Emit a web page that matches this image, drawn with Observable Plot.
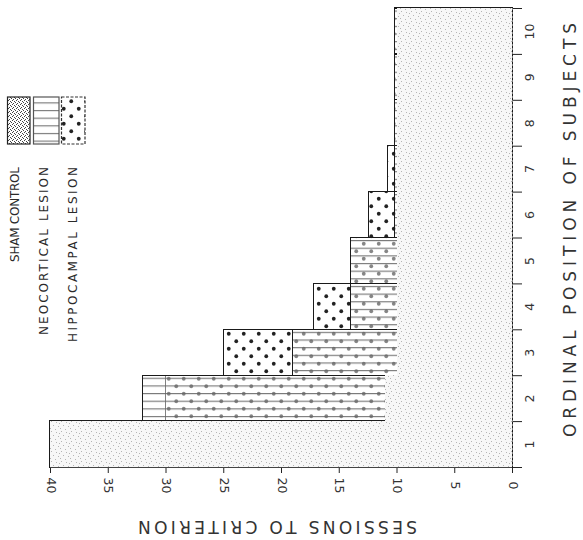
<!DOCTYPE html>
<html><head><meta charset="utf-8">
<script src="https://cdn.jsdelivr.net/npm/d3@7"></script>
<script src="https://cdn.jsdelivr.net/npm/@observablehq/plot@0.6"></script>
<style>
html,body{margin:0;padding:0;background:#fff;}
#chart{width:583px;height:540px;position:relative;overflow:hidden;}
</style>
</head><body><div id="chart"></div>
<script>
// ---- data ----
const ordinalPositions = [1, 2, 3, 4, 5, 6, 7, 8, 9, 10];
const shamControl       = [40, 11, 10, 10, 10, 10, 10, 10, 10, 10];
const neocorticalLesion = [40, 32, 19, 14, 14, 10.2, 10.2, 10.2, 10.2, 10.2];
const hippocampalLesion = [40, 30, 25, 17.2, 14, 12.4, 10.8, 10.2, 10.2, 10.2];
const sessionTicks = [0, 5, 10, 15, 20, 25, 30, 35, 40];
const groupLabels = ["SHAM CONTROL", "NEOCORTICAL LESION", "HIPPOCAMPAL LESION"];
const xTitle = "SESSIONS TO CRITERION";
const yTitle = "ORDINAL POSITION OF SUBJECTS";

// ---- tables built from the arrays ----
const rows = (values) => ordinalPositions.map((p, i) => ({position: p, sessions: values[i]}));
const sham = rows(shamControl), neo = rows(neocorticalLesion), hippo = rows(hippocampalLesion);
const bandEdges = [...ordinalPositions.map(p => p - 0.5), ordinalPositions[ordinalPositions.length - 1] + 0.5];

const font = "DejaVu Sans, sans-serif";
const rectOpts = {x1: 0, x2: "sessions", y1: d => d.position - 0.5, y2: d => d.position + 0.5, shapeRendering: "crispEdges"};

const chart = Plot.plot({
  width: 583, height: 540,
  marginLeft: 50, marginRight: 71, marginTop: 8, marginBottom: 73,
  style: {fontFamily: font, background: "#fff", color: "#222"},
  x: {domain: [0, 40], reverse: true, ticks: sessionTicks, tickSize: 6, tickFormat: () => "", label: null},
  y: {domain: [0.5, 10.5], axis: "right", ticks: bandEdges, tickSize: 9, tickFormat: () => "", label: null},
  marks: [
    Plot.rect(hippo, {...rectOpts, fill: "url(#hippoDots)", stroke: "#1a1a1a", strokeWidth: 1.3}),
    Plot.rect(neo, {...rectOpts, fill: "url(#neoLines)", stroke: "#1a1a1a", strokeWidth: 1.3}),
    Plot.rect(sham, {...rectOpts, fill: "url(#shamStipple)"}),
    Plot.ruleX([0], {stroke: "#777", strokeDasharray: "2,2"}),
    Plot.ruleY([bandEdges[0]], {stroke: "#444", strokeWidth: 1}),
    Plot.text(sessionTicks, {x: d => d, text: d => String(d), frameAnchor: "bottom", dy: 18, rotate: 90,
      textAnchor: "middle", lineAnchor: "middle", fontSize: 12.5, fill: "#333"}),
    Plot.text(ordinalPositions, {y: d => d, text: d => String(d), frameAnchor: "right", dx: 17, rotate: -90,
      textAnchor: "middle", lineAnchor: "middle", fontSize: 12.5, fill: "#333"})
  ]
});
document.getElementById("chart").appendChild(chart);

// ---- patterns ----
const svg = d3.select(chart);
const defs = svg.insert("defs", ":first-child");
function stipple(id, size, bg, pts, color) {
  const p = defs.append("pattern").attr("id", id).attr("patternUnits", "userSpaceOnUse")
    .attr("width", size).attr("height", size);
  p.append("rect").attr("width", size).attr("height", size).attr("fill", bg);
  pts.forEach(([x, y]) => p.append("rect").attr("x", x).attr("y", y).attr("width", 1).attr("height", 1).attr("fill", color));
}
stipple("shamStipple", 10, "#f7f7f7", [[1,1],[6,2],[3,5],[8,6],[0,8],[5,9],[9,3]], "#b5b5b5");
stipple("shamLegend", 4, "#fff", [[0,0],[2,1],[1,3],[3,2]], "#444");
{
  const p = defs.append("pattern").attr("id", "neoLines").attr("patternUnits", "userSpaceOnUse")
    .attr("width", 10).attr("height", 7.65);
  p.append("rect").attr("width", 10).attr("height", 7.65).attr("fill", "rgba(255,255,255,0.45)");
  p.append("rect").attr("x", 0).attr("y", 3).attr("width", 10).attr("height", 1).attr("fill", "#666");
}
{
  const p = defs.append("pattern").attr("id", "hippoDots").attr("patternUnits", "userSpaceOnUse")
    .attr("width", 15).attr("height", 15);
  p.append("rect").attr("width", 15).attr("height", 15).attr("fill", "#fff");
  p.append("circle").attr("cx", 3.75).attr("cy", 3.75).attr("r", 1.9).attr("fill", "#222");
  p.append("circle").attr("cx", 11.25).attr("cy", 11.25).attr("r", 1.9).attr("fill", "#222");
}

// ---- legend (top-left, rotated like the figure) ----
const lg = svg.append("g");
const sw = [
  {x: 7.5, w: 22.5, fill: "url(#shamLegend)", stroke: "#222", dash: null},
  {x: 33.5, w: 25.5, fill: "url(#neoLines)", stroke: "#555", dash: null},
  {x: 61.5, w: 23.5, fill: "url(#hippoDots)", stroke: "#333", dash: "3,1.5"}
];
sw.forEach(s => {
  lg.append("rect").attr("x", s.x).attr("y", 97).attr("width", s.w).attr("height", 47).attr("fill", "#fff");
  lg.append("rect").attr("x", s.x).attr("y", 97).attr("width", s.w).attr("height", 47)
    .attr("fill", s.fill).attr("stroke", s.stroke).attr("stroke-width", 1.2).attr("stroke-dasharray", s.dash);
});
const legendX = [15, 44, 73], legendLen = [95, 168, 175];
groupLabels.forEach((t, i) => {
  lg.append("text").attr("transform", `translate(${legendX[i]},167) rotate(-90)`)
    .attr("text-anchor", "end").attr("dominant-baseline", "central")
    .attr("font-family", font).attr("font-size", 12).attr("fill", "#2a2a2a")
    .attr("textLength", legendLen[i]).attr("lengthAdjust", "spacing").text(t);
});

// ---- axis titles ----
svg.append("text").attr("transform", "translate(570,230) rotate(-90)")
  .attr("text-anchor", "middle").attr("dominant-baseline", "central")
  .attr("font-family", font).attr("font-size", 17).attr("fill", "#333")
  .attr("textLength", 414).attr("lengthAdjust", "spacing").text(yTitle);
svg.append("text").attr("transform", "translate(277.5,527) rotate(180)")
  .attr("text-anchor", "middle").attr("dominant-baseline", "central")
  .attr("font-family", font).attr("font-size", 17).attr("fill", "#333")
  .attr("textLength", 279).attr("lengthAdjust", "spacing").text(xTitle);
</script>
</body></html>
